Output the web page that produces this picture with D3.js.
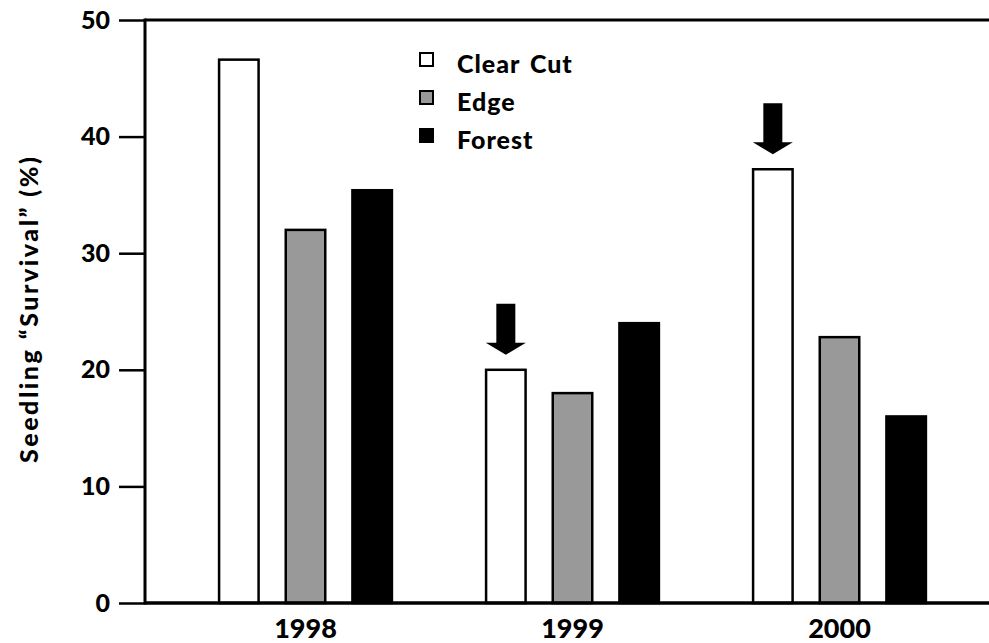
<!DOCTYPE html>
<html>
<head>
<meta charset="utf-8">
<script src="https://cdn.jsdelivr.net/npm/d3@7"></script>
<style>
  html, body { margin: 0; padding: 0; background: #fff; }
  svg { display: block; }
  text { font-family: "Lato", "Open Sans", sans-serif; font-weight: 900; fill: #000; }
</style>
</head>
<body>
<svg id="chart" width="989" height="643"></svg>
<script>
const years = ["1998", "1999", "2000"];
const series = ["Clear Cut", "Edge", "Forest"];
const clearCut = [46.6, 20.0, 37.2];
const edge = [32.0, 18.0, 22.8];
const forest = [35.4, 24.0, 16.0];
const yTicks = [0, 10, 20, 30, 40, 50];
const arrowYears = ["1999", "2000"];
const colors = ["#ffffff", "#999999", "#000000"];

const values = [clearCut, edge, forest];
const rows = years.map((yr, i) => ({ year: yr, vals: series.map((s, j) => ({ s, j, v: values[j][i] })) }));

const svg = d3.select("#chart");
const M = { left: 145, right: 989, top: 20, bottom: 603 };

const y = d3.scaleLinear().domain([0, 50]).range([M.bottom, M.top]);
const x0 = d3.scaleBand().domain(years).range([172, 973]);
const x1 = d3.scaleBand().domain(series).range([-100, 100]).paddingInner(0.37).paddingOuter(0.185);

// bars
const g = svg.append("g");
rows.forEach(r => {
  const cx = x0(r.year) + x0.bandwidth() / 2;
  g.selectAll(null).data(r.vals).enter().append("rect")
    .attr("x", d => cx + x1(d.s) + 1.25)
    .attr("y", d => y(d.v))
    .attr("width", x1.bandwidth() - 2.5)
    .attr("height", d => y(0) - y(d.v))
    .attr("fill", d => colors[d.j])
    .attr("stroke", "#000")
    .attr("stroke-width", 2.5);
});

// arrows above clear cut bars
arrowYears.forEach(yr => {
  const i = years.indexOf(yr);
  const cx = x0(yr) + x0.bandwidth() / 2 + x1("Clear Cut") + x1.bandwidth() / 2;
  const tip = y(clearCut[i]) - 15;
  const p = d3.path();
  p.moveTo(cx - 9.5, tip - 51);
  p.lineTo(cx + 9.5, tip - 51);
  p.lineTo(cx + 9.5, tip - 12);
  p.lineTo(cx + 20, tip - 12);
  p.lineTo(cx, tip);
  p.lineTo(cx - 20, tip - 12);
  p.lineTo(cx - 9.5, tip - 12);
  p.closePath();
  svg.append("path").attr("d", p.toString()).attr("fill", "#000");
});

// y axis
const yAxis = d3.axisLeft(y).tickValues(yTicks).tickSize(26).tickPadding(9).tickFormat(d3.format("d"));
const ya = svg.append("g").attr("transform", `translate(${M.left},0)`).call(yAxis);
ya.select(".domain").remove();
ya.selectAll(".tick line").attr("stroke", "#000").attr("stroke-width", 2.5);
ya.selectAll(".tick text").attr("font-size", 25).style("font-family", "Lato, sans-serif").style("font-weight", 900);

// frame lines
svg.append("line").attr("x1", M.left).attr("x2", M.left).attr("y1", M.top - 1.5).attr("y2", M.bottom + 1.5)
  .attr("stroke", "#000").attr("stroke-width", 3);
svg.append("line").attr("x1", M.left).attr("x2", M.right).attr("y1", M.top).attr("y2", M.top)
  .attr("stroke", "#000").attr("stroke-width", 3);

// x axis
const xAxis = d3.axisBottom(x0).tickSize(0).tickPadding(0);
const xa = svg.append("g").attr("transform", `translate(0,${M.bottom})`).call(xAxis);
xa.select(".domain").remove();
xa.selectAll(".tick text").attr("y", 35).attr("dy", 0).attr("font-size", 27)
  .style("font-family", "Lato, sans-serif").style("font-weight", 900);
svg.append("line").attr("x1", M.left).attr("x2", M.right).attr("y1", M.bottom).attr("y2", M.bottom)
  .attr("stroke", "#000").attr("stroke-width", 3.5);

// y title
svg.append("text")
  .attr("transform", "translate(38,310) rotate(-90)")
  .attr("text-anchor", "middle")
  .attr("font-size", 25)
  .attr("textLength", 306)
  .attr("lengthAdjust", "spacing")
  .text("Seedling \u201cSurvival\u201d  (%)");

// legend
const lg = svg.append("g").attr("transform", "translate(419,52)");
series.forEach((s, j) => {
  const row = lg.append("g").attr("transform", `translate(0,${j * 38})`);
  row.append("rect").attr("x", 1).attr("y", 1).attr("width", 13).attr("height", 13)
    .attr("fill", colors[j]).attr("stroke", "#000").attr("stroke-width", 2);
  row.append("text").attr("x", 38).attr("y", 21).attr("font-size", 25)
    .style("letter-spacing", "1px").style("word-spacing", "3px").text(s);
});
</script>
</body>
</html>
